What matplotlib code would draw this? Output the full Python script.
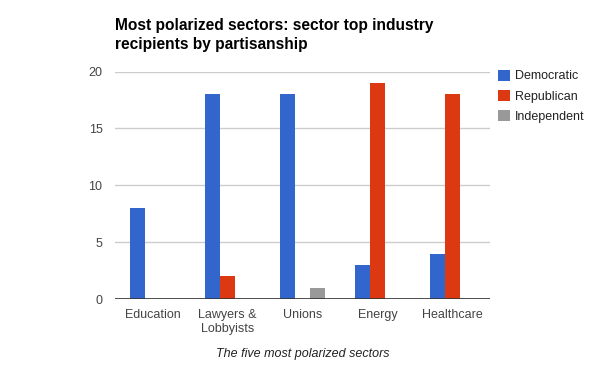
import matplotlib
matplotlib.use("Agg")
import matplotlib.pyplot as plt
import numpy as np

categories = ["Education", "Lawyers &\nLobbyists", "Unions", "Energy", "Healthcare"]
democratic = [8, 18, 18, 3, 4]
republican = [0, 2, 0, 19, 18]
independent = [0, 0, 1, 0, 0]
series_names = ["Democratic", "Republican", "Independent"]
colors = ["#3366cc", "#dc3912", "#999999"]
yticks = [0, 5, 10, 15, 20]
title_lines = ["Most polarized sectors: sector top industry", "recipients by partisanship"]

plt.rcParams['font.family'] = ['Liberation Sans', 'DejaVu Sans']

fig = plt.figure(figsize=(6, 3.71), dpi=100)
ax = fig.add_axes([115/600, 1 - 299/371, 375/600, (299-71.5)/371])

x = np.arange(len(categories))
w = 0.187
off = 0.2
for i, (vals, c, n) in enumerate(zip([democratic, republican, independent], colors, series_names)):
    ax.bar(x + (i - 1) * off, vals, width=w, color=c, label=n, zorder=3)

ax.set_xlim(-0.5, len(categories) - 0.5)
ax.set_ylim(0, 20)
ax.set_yticks(yticks)
ax.yaxis.grid(True, color="#cccccc", linewidth=1, zorder=0)
ax.axhline(0, color="#333333", linewidth=1.2, zorder=4)
for s in ax.spines.values():
    s.set_visible(False)
ax.tick_params(axis='both', length=0, labelsize=9, colors="#444444")
ax.tick_params(axis='y', pad=9)
ax.tick_params(axis='x', pad=7)
ax.set_xticks(x)
ax.set_xticklabels(categories, linespacing=1.3)

ax.set_xlabel("The five most polarized sectors", fontstyle='italic', fontsize=9,
              color="#222222", labelpad=9)

for k, line in enumerate(title_lines):
    fig.text(115/600, 1 - (30 + 19.5 * k)/371, line,
             fontsize=11.2, fontweight='bold', color="#000000", va='baseline', ha='left')

leg = ax.legend(loc='upper left', bbox_to_anchor=(495/600, 1 - 67/371), bbox_transform=fig.transFigure,
                frameon=False, fontsize=9, handlelength=1.0, handleheight=1.0,
                handletextpad=0.4, labelspacing=0.6, borderaxespad=0, borderpad=0.2)
for t in leg.get_texts():
    t.set_color("#222222")

fig.savefig("out.png", dpi=100)
